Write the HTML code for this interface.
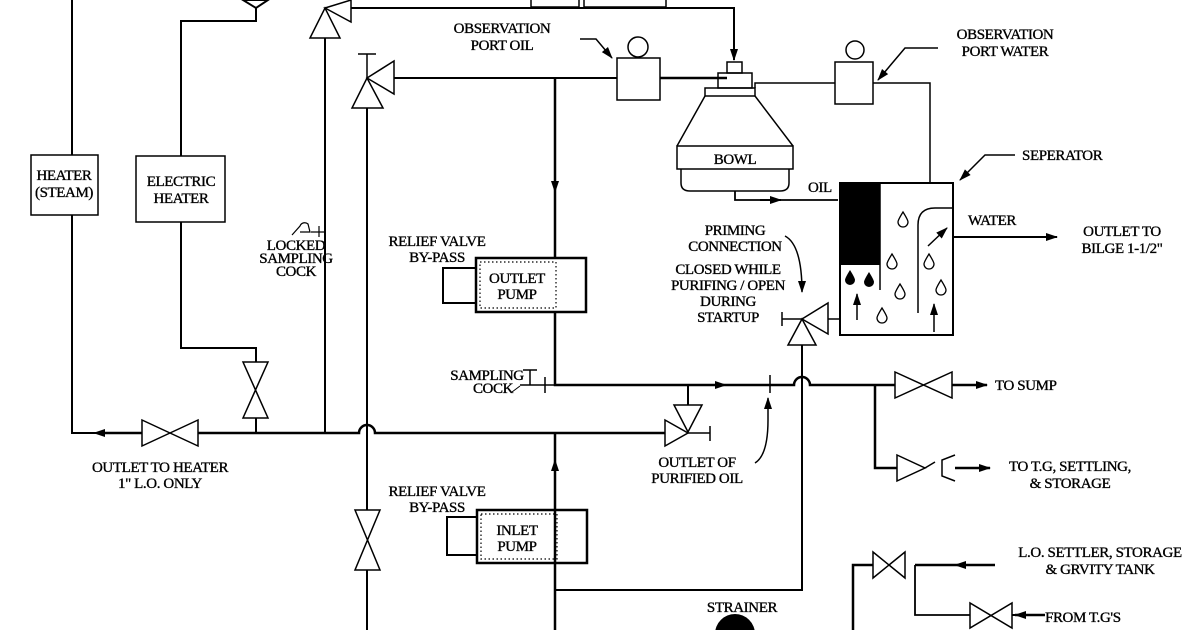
<!DOCTYPE html>
<html><head><meta charset="utf-8"><style>
html,body{margin:0;padding:0;background:#fff;}
svg{display:block;}
text{font-family:"Liberation Serif",serif;font-size:15px;fill:#000;stroke:#000;stroke-width:0.35;letter-spacing:-0.4px;}
</style></head><body>
<svg width="1200" height="630" viewBox="0 0 1200 630" xmlns="http://www.w3.org/2000/svg">
<defs>
<marker id="a" viewBox="0 0 12 10" refX="11" refY="5" markerWidth="14" markerHeight="10" markerUnits="userSpaceOnUse" orient="auto"><path d="M0,1 L12,5 L0,9z" fill="#000"/></marker>
<path id="d" d="M0,-8 Q5,0 5,2 A5,5 0 0 1 -5,2 Q-5,0 0,-8Z"/>
</defs>
<g fill="none" stroke="#000" stroke-width="2">
<path d="M72,0 V155 M72,215 V433 H142"/>
<rect x="31" y="155" width="67" height="60" stroke-width="1.5"/>
<rect x="136" y="156" width="89" height="66" stroke-width="1.5"/>
<path d="M181,156 V21 H256 V8"/>
<path d="M243,0 L268,0 L256,8 Z"/>
<path d="M181,222 V348 H256 V362"/>
<path d="M243,362 H268 L243,418 H268 Z" stroke-width="1.5"/>
<path d="M256,418 V433"/>
<path d="M142,420 V446 L198,420 V446 Z" stroke-width="1.5"/>
<path d="M198,433 H359 A8,8 0 0 1 375,433 H555" stroke-width="2.5"/>
<path d="M142,433 H100" stroke-width="2.5"/>
<path d="M110,433 L94,433" marker-end="url(#a)"/>
<path d="M325,38 V433"/>
<path d="M310,38 H340 L325,8 Z" stroke-width="1.5"/>
<path d="M325,8 L351,0 V22 Z" stroke-width="1.5"/>
<path d="M351,8 H734 V60"/>
<path d="M734,20 V60" marker-end="url(#a)"/>
<rect x="531" y="-5" width="48" height="12" stroke-width="1.5"/>
<rect x="584" y="-5" width="82" height="12" stroke-width="1.5"/>
<path d="M311,232 H325 M319,226 V237" stroke-width="1.2"/>
<path d="M292,235 L300,226 A5,5 0 0 1 308,224 L310,232 L300,232" stroke-width="1.2"/>
<path d="M367,54 V78 M358,54 H376" stroke-width="1.5"/>
<path d="M352,108 H383 L367,78 Z" stroke-width="1.5"/>
<path d="M367,78 L394,61 V94 Z" stroke-width="1.5"/>
<path d="M394,78 H617"/>
<path d="M660,78 H727" stroke-width="2.5"/>
<path d="M367,108 V510"/>
<path d="M355,510 H380 L355,570 H380 Z" stroke-width="1.5"/>
<path d="M367,570 V630"/>
<rect x="617" y="58" width="43" height="42" stroke-width="1.5"/>
<circle cx="638" cy="47" r="10" stroke-width="1.5"/>
<path d="M580,39 H596 L612,58" stroke-width="1.5" marker-end="url(#a)"/>
<path d="M555,78 V258" stroke-width="2.5"/>
<path d="M555,170 V192" marker-end="url(#a)"/>
<rect x="476" y="258" width="110" height="54" stroke-width="2.5"/>
<rect x="480" y="262" width="76" height="46" stroke-width="1.2" stroke-dasharray="1.5,2.5"/>
<rect x="443" y="268" width="33" height="35" stroke-width="2"/>
<path d="M555,312 V385 H794 A8,8 0 0 1 810,385 H895" stroke-width="2.5"/>
<path d="M705,385 H726" marker-end="url(#a)"/>
<path d="M770,375 V393" stroke-width="1.5"/>
<path d="M520,385 H555 M545,377 V393 M530,370 V385 M523,370 H537" stroke-width="1.5"/>
<path d="M520,386 L512,392" stroke-width="1"/>
<path d="M688,385 V405"/>
<path d="M674,405 H702 L688,432 Z" stroke-width="1.5"/>
<path d="M665,420 V446 L688,433 Z" stroke-width="1.5"/>
<path d="M688,433 H710 M710,426 V441" stroke-width="1.5"/>
<path d="M555,433 H665" stroke-width="2.5"/>
<path d="M755,463 Q768,455 768,420 V398" stroke-width="1.5" marker-end="url(#a)"/>
<path d="M555,630 V433" stroke-width="2.5"/>
<path d="M555,490 V460" marker-end="url(#a)"/>
<rect x="477" y="510" width="110" height="53" stroke-width="2.5"/>
<rect x="481" y="514" width="76" height="45" stroke-width="1.2" stroke-dasharray="1.5,2.5"/>
<rect x="447" y="517" width="30" height="38" stroke-width="2"/>
<path d="M555,590 H802 V345"/>
<path d="M788,345 H816 L802,319 Z" stroke-width="1.5"/>
<path d="M802,319 L828,303 V334 Z" stroke-width="1.5"/>
<path d="M802,319 H782 M782,312 V326" stroke-width="1.5"/>
<path d="M828,319 H840" stroke-width="1.5"/>
<path d="M785,236 Q802,245 802,292" stroke-width="1.5" marker-end="url(#a)"/>
<path d="M895,372 V398 L952,372 V398 Z" stroke-width="1.5"/>
<path d="M952,385 H987" stroke-width="2.5" marker-end="url(#a)"/>
<path d="M875,385 V468 H897" stroke-width="2.5"/>
<path d="M897,455 V481 L925,468 Z" stroke-width="1.5"/>
<path d="M925,468 L935,462 M955,455 L942,460 V476 L955,481" stroke-width="1.5"/>
<path d="M955,468 H990" stroke-width="2.5" marker-end="url(#a)"/>
<path d="M853,630 V565 H873" stroke-width="2.5"/>
<path d="M873,552 V578 L905,552 V578 Z" stroke-width="1.5"/>
<path d="M915,565 H955" stroke-width="2.5"/>
<path d="M995,565 H955" stroke-width="2.5" marker-end="url(#a)"/>
<path d="M915,565 V615 H970" stroke-width="1.8"/>
<path d="M970,603 V628 L1012,603 V628 Z" stroke-width="1.5"/>
<path d="M1012,615 H1022"/>
<path d="M1045,615 H1015" stroke-width="2.5" marker-end="url(#a)"/>
<rect x="727" y="62" width="15" height="11" stroke-width="1.5"/>
<rect x="718" y="73" width="34" height="15" stroke-width="1.5"/>
<rect x="705" y="88" width="50" height="8" stroke-width="1.5"/>
<path d="M705,96 L677,146 M755,96 L793,146" stroke-width="1.5"/>
<rect x="677" y="146" width="116" height="23" stroke-width="1.5"/>
<path d="M681,169 V183 Q681,191 690,191 H780 Q789,191 789,183 V169" stroke-width="1.5"/>
<path d="M735,191 V200 H838" stroke-width="1.8"/>
<path d="M760,200 H781" marker-end="url(#a)"/>
<path d="M755,88 V83 H835 M873,83 H930 V183" stroke-width="1.5"/>
<rect x="835" y="62" width="38" height="42" stroke-width="1.5"/>
<circle cx="855" cy="50" r="9" stroke-width="1.5"/>
<path d="M938,48 H905 L878,80" stroke-width="1.5" marker-end="url(#a)"/>
<rect x="840" y="183" width="113" height="152" stroke-width="2"/>
<path d="M880,183 V290" stroke-width="1.5"/>
<path d="M918,313 V225 Q918,208 935,208 H953" stroke-width="1.5"/>
<path d="M953,237 H1057" stroke-width="2" marker-end="url(#a)"/>
<path d="M1015,155 H985 L960,180" stroke-width="1.5" marker-end="url(#a)"/>
<path d="M928,246 L947,228" stroke-width="1.5" marker-end="url(#a)"/>
<path d="M857,320 V294" stroke-width="1.5" marker-end="url(#a)"/>
<path d="M934,332 V304" stroke-width="1.5" marker-end="url(#a)"/>
</g>
<rect x="840" y="183" width="40" height="82" fill="#000"/>
<g fill="none" stroke="#000" stroke-width="1.3">
<use href="#d" x="903" y="220"/><use href="#d" x="892" y="262"/><use href="#d" x="900" y="292"/>
<use href="#d" x="882" y="316"/><use href="#d" x="929" y="262"/><use href="#d" x="941" y="288"/>
</g>
<g fill="#000"><use href="#d" x="850" y="278"/><use href="#d" x="869" y="280"/></g>
<circle cx="735" cy="634" r="20" fill="#000"/>
<g text-anchor="middle">
<text x="64" y="180" font-size="14">HEATER</text><text x="64" y="197" font-size="14">(STEAM)</text>
<text x="181" y="186">ELECTRIC</text><text x="181" y="203">HEATER</text>
<text x="296" y="250" font-size="11">LOCKED</text><text x="296" y="263" font-size="11">SAMPLING</text><text x="296" y="276" font-size="11">COCK</text>
<text x="502" y="33">OBSERVATION</text><text x="502" y="50">PORT OIL</text>
<text x="1005" y="39">OBSERVATION</text><text x="1005" y="56">PORT WATER</text>
<text x="437" y="246">RELIEF VALVE</text><text x="437" y="262">BY-PASS</text>
<text x="517" y="283">OUTLET</text><text x="517" y="299">PUMP</text>
<text x="437" y="496">RELIEF VALVE</text><text x="437" y="512">BY-PASS</text>
<text x="517" y="535">INLET</text><text x="517" y="551">PUMP</text>
<text x="735" y="164">BOWL</text>
<text x="735" y="235">PRIMING</text><text x="735" y="251">CONNECTION</text>
<text x="728" y="274">CLOSED WHILE</text><text x="728" y="290">PURIFING / OPEN</text><text x="728" y="306">DURING</text><text x="728" y="322">STARTUP</text>
<text x="487" y="380" font-size="11">SAMPLING</text><text x="493" y="393" font-size="11">COCK</text>
<text x="160" y="472">OUTLET TO HEATER</text><text x="160" y="488">1"  L.O. ONLY</text>
<text x="697" y="467">OUTLET OF</text><text x="697" y="483">PURIFIED OIL</text>
<text x="742" y="612">STRAINER</text>
<text x="1122" y="236">OUTLET TO</text><text x="1122" y="253">BILGE  1-1/2"</text>
<text x="1070" y="471">TO T.G, SETTLING,</text><text x="1070" y="488">&amp; STORAGE</text>
<text x="1100" y="557">L.O. SETTLER, STORAGE</text><text x="1100" y="574">&amp; GRVITY TANK</text>
</g>
<text x="808" y="192">OIL</text>
<text x="968" y="225">WATER</text>
<text x="1022" y="160">SEPERATOR</text>
<text x="995" y="390">TO SUMP</text>
<text x="1045" y="622">FROM T.G'S</text>
</svg>
</body></html>
